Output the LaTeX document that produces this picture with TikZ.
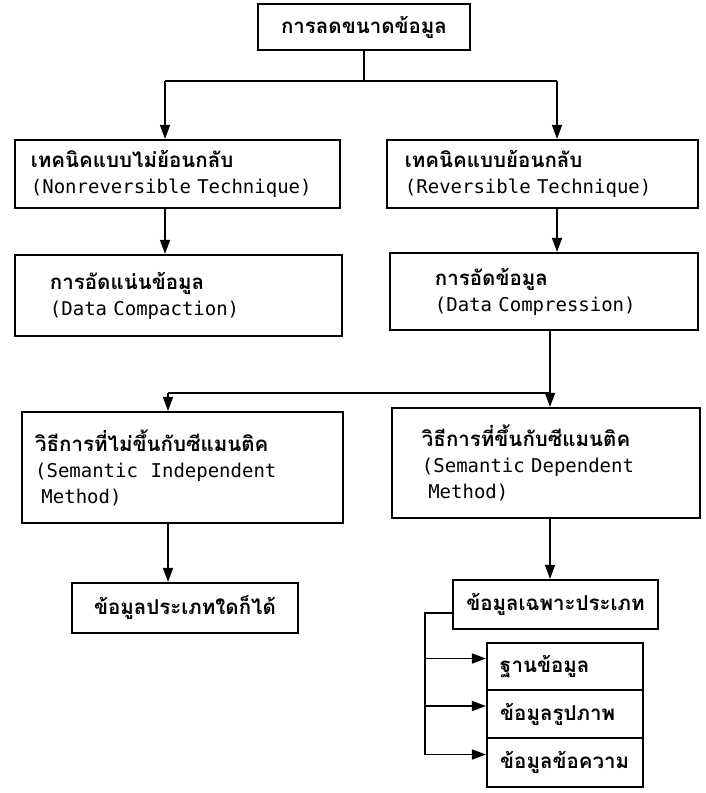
\documentclass[tikz,border=0pt]{standalone}
\usepackage{fontspec}
\usetikzlibrary{arrows.meta,positioning}
\newfontfamily\thaifont[Script=Thai,Scale=1.08]{Loma}
\newfontfamily\engfont{DejaVu Sans Mono}
\tikzset{
  box/.style={draw, line width=1.4pt, align=left, anchor=center,
    inner ysep=2pt, font=\fontsize{13.5}{18.5}\selectfont},
  arr/.style={line width=1.4pt, -{Triangle[length=10pt,width=7pt]}},
  ln/.style={line width=1.4pt}
}
\begin{document}
\begin{tikzpicture}[x=0.025cm,y=-0.025cm]
  \useasboundingbox (0,0) rectangle (705,793);

  % boxes
  \node[box, align=center, minimum width=5.3cm, minimum height=1.15cm] (top) at (364,27)
    {\thaifont\bfseries การลดขนาดข้อมูล};

  \node[box, text width=7.325cm, inner xsep=0.4cm, minimum height=1.7cm] (nrev) at (177.5,174)
    {{\thaifont\bfseries เทคนิคแบบไม่ย้อนกลับ}\\{\engfont\mbox{(Nonreversible Technique)}}};
  \node[box, text width=6.875cm, inner xsep=0.45cm, minimum height=1.7cm] (rev) at (542.5,174)
    {{\thaifont\bfseries เทคนิคแบบย้อนกลับ}\\{\engfont (Reversible Technique)}};

  \node[box, text width=6.425cm, inner xsep=0.875cm, minimum height=2.025cm] (compact) at (178.5,295.5)
    {{\thaifont\bfseries การอัดแน่นข้อมูล}\\{\engfont (Data Compaction)}};
  \node[box, text width=5.45cm, inner xsep=1.125cm, minimum height=1.925cm] (compress) at (544,291.5)
    {{\thaifont\bfseries การอัดข้อมูล}\\{\engfont (Data Compression)}};

  \node[box, text width=7.365cm, inner xsep=0.33cm, minimum height=2.775cm] (indep) at (182.5,467.5)
    {{\thaifont\bfseries วิธีการที่ไม่ขึ้นกับซีแมนติค}\\{\engfont (Semantic\ \ Independent}\\{\engfont\ Method)}};
  \node[box, text width=6.2cm, inner xsep=0.75cm, minimum height=2.75cm] (dep) at (546,463)
    {{\thaifont\bfseries วิธีการที่ขึ้นกับซีแมนติค}\\{\engfont (Semantic Dependent}\\{\engfont\ Method)}};

  \node[box, align=center, minimum width=5.65cm, minimum height=1.25cm] (anyd) at (185,608)
    {\thaifont\bfseries ข้อมูลประเภทใดก็ได้};
  \node[box, align=center, minimum width=5.125cm, minimum height=1.225cm] (spec) at (555.5,604.5)
    {\thaifont\bfseries ข้อมูลเฉพาะประเภท};

  \node[box, text width=3.24cm, inner xsep=0.33cm, minimum height=1.175cm] (db) at (565,666.5)
    {\thaifont\bfseries ฐานข้อมูล};
  \node[box, text width=3.24cm, inner xsep=0.33cm, minimum height=1.2cm] (img) at (565,714)
    {\thaifont\bfseries ข้อมูลรูปภาพ};
  \node[box, text width=3.24cm, inner xsep=0.33cm, minimum height=1.225cm] (txt) at (565,762.5)
    {\thaifont\bfseries ข้อมูลข้อความ};

  % connectors
  \coordinate (xl) at (165,0);
  \coordinate (xr) at (557,0);
  \coordinate (xi) at (168,0);
  \coordinate (xm) at (550,0);
  \coordinate (bus) at (425,0);

  \draw[ln] (top.south) -- ++(0,30) coordinate (split1);
  \draw[ln] (split1 -| xl) -- (split1 -| xr);
  \draw[arr] (split1 -| xl) -- (nrev.north -| xl);
  \draw[arr] (split1 -| xr) -- (rev.north -| xr);
  \draw[arr] (nrev.south -| xl) -- (compact.north -| xl);
  \draw[arr] (rev.south -| xr) -- (compress.north -| xr);

  \draw[ln] (compress.south -| xm) -- ++(0,62) coordinate (split2);
  \draw[ln] (split2) -- (split2 -| xi);
  \draw[arr] (split2 -| xi) -- (indep.north -| xi);
  \draw[arr] (split2) -- (dep.north -| xm);
  \draw[arr] (indep.south -| xi) -- (anyd.north -| xi);
  \draw[arr] (dep.south -| xm) -- (spec.north -| xm);

  \draw[ln] (spec.west) ++(0,8.5) coordinate (tap) -- (tap -| bus) -- ([yshift=0.2cm]txt.west -| bus);
  \foreach \n in {db,img,txt}
    \draw[arr] ([yshift=0.2cm]\n.west -| bus) -- ([yshift=0.2cm]\n.west);
\end{tikzpicture}
\end{document}
